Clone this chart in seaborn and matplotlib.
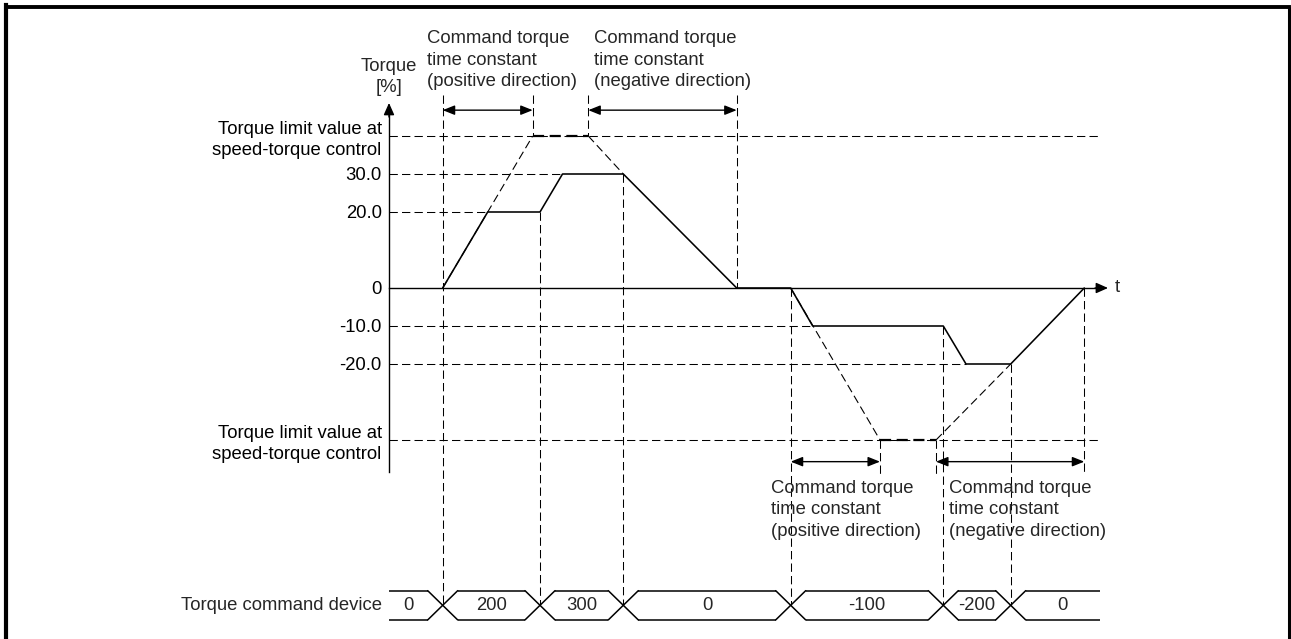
import matplotlib
matplotlib.use("Agg")
import matplotlib.pyplot as plt
import seaborn as sns

# ---- data -------------------------------------------------------------
# time axis in arbitrary units, torque in %
response_time = [53.7, 98.7, 151.0, 173.5, 234.3, 347.7,
                 401.7, 423.7, 554.3, 577.0, 621.7, 695.3]
response_torque = [0, 20, 20, 30, 30, 0,
                   0, -10, -10, -20, -20, 0]

torque_limit = 40.0
limit_label = "Torque limit value at\nspeed-torque control"
level_values = [torque_limit, 30.0, 20.0, 0.0, -10.0, -20.0, -torque_limit]
level_labels = [limit_label, "30.0", "20.0", "0", "-10.0", "-20.0", limit_label]

# ramps toward the limit (dashed) : ramp-in, plateau, ramp-out
pos_ramp_time = [53.7, 143.7, 199.3, 234.3]
pos_ramp_torque = [0, 40, 40, 30]
neg_ramp_time = [401.7, 491.0, 547.0, 621.7]
neg_ramp_torque = [0, -40, -40, -20]

# command torque time constant spans
span_top = [(53.7, 143.7), (199.3, 347.7)]
span_bottom = [(401.7, 491.0), (547.0, 695.3)]
span_text = ["Command torque\ntime constant\n(positive direction)",
             "Command torque\ntime constant\n(negative direction)"]

# torque command device
command_change_time = [53.7, 151.0, 234.3, 401.7, 554.3, 621.7]
command_value = [0, 200, 300, 0, -100, -200, 0]

# ---- style ------------------------------------------------------------
sns.set_theme(style="white")
plt.rcParams["font.family"] = ["Liberation Sans", "DejaVu Sans"]
plt.rcParams["lines.scale_dashes"] = False
FS = 13.3
LS = 1.34
THIN = (0, (6.0, 3.0))
THICK = (0, (8.0, 4.0))
K = "black"

fig = plt.figure(figsize=(12.91, 6.39), dpi=100)
ax = fig.add_axes([0, 0, 1, 1])
ax.set_xlim(-389, 902)
ax.set_ylim(-92.37, 75.79)
ax.set_facecolor("white")

t_end = 711.0         # right end of guides / time axis
y_top_guide = 50.8    # top of guides under the upper annotations
y_span_top = 46.8
y_span_bot = -45.7
y_bot_guide = -49.2
row_mid, row_half, row_slant = -83.5, 3.85, 15.0

# torque axis and time axis via spines
for s in ["top", "right"]:
    ax.spines[s].set_visible(False)
ax.spines["left"].set_position(("data", 0))
ax.spines["left"].set_bounds(-48.4, 46.0)
ax.spines["bottom"].set_position(("data", 0))
ax.spines["bottom"].set_bounds(0, t_end)
for s in ["left", "bottom"]:
    ax.spines[s].set_color(K)
    ax.spines[s].set_linewidth(1.0)
ax.set_xticks([])
ax.set_yticks(level_values)
ax.set_yticklabels(level_labels, fontsize=FS, color=K, linespacing=LS)
ax.tick_params(axis="y", length=0, pad=5.3)

ax.annotate("", xy=(0, 48.7), xytext=(0, 45.0),
            arrowprops=dict(arrowstyle="-|>,head_length=0.45,head_width=0.2",
                            mutation_scale=16, color=K, lw=1.0,
                            shrinkA=0, shrinkB=0))
ax.annotate("", xy=(t_end + 8, 0), xytext=(t_end - 5, 0),
            arrowprops=dict(arrowstyle="-|>,head_length=0.45,head_width=0.2",
                            mutation_scale=16, color=K, lw=1.0,
                            shrinkA=0, shrinkB=0))
ax.text(0, 55.6, "Torque\n[%]", ha="center", va="center", fontsize=FS,
        linespacing=LS)
ax.text(t_end + 17, 0, "t", ha="center", va="center", fontsize=FS)

# horizontal reference guides
def first_hit(level):
    for t, v in zip(response_time, response_torque):
        if v == level:
            return t
    return t_end

for lv in [30.0, 20.0, -10.0, -20.0]:
    ax.plot([0, first_hit(lv)], [lv, lv], color=K, lw=0.75, ls=THIN)
for lv in [torque_limit, -torque_limit]:
    ax.plot([0, t_end], [lv, lv], color=K, lw=0.75, ls=THIN)

# vertical guides: command changes down to the command row
level_at_change = [0, 20, 30, 0, -10, -20]
for i, (t, lv) in enumerate(zip(command_change_time, level_at_change)):
    top = y_top_guide if i == 0 else lv
    ax.plot([t, t], [top, row_mid], color=K, lw=0.75, ls=THIN)

# vertical guides: time-constant span ends
ax.plot([span_top[0][1]] * 2, [y_top_guide, torque_limit], color=K, lw=0.75, ls=THIN)
ax.plot([span_top[1][0]] * 2, [y_top_guide, torque_limit], color=K, lw=0.75, ls=THIN)
ax.plot([span_top[1][1]] * 2, [y_top_guide, 0], color=K, lw=0.75, ls=THIN)
ax.plot([span_bottom[0][1]] * 2, [-torque_limit, y_bot_guide], color=K, lw=0.75, ls=THIN)
ax.plot([span_bottom[1][0]] * 2, [-torque_limit, y_bot_guide], color=K, lw=0.75, ls=THIN)
ax.plot([span_bottom[1][1]] * 2, [0, y_bot_guide], color=K, lw=0.75, ls=THIN)

# ramps toward the limit
for rt, rv in [(pos_ramp_time, pos_ramp_torque), (neg_ramp_time, neg_ramp_torque)]:
    ax.plot([rt[0], rt[1]], [rv[0], rv[1]], color=K, lw=0.8, ls=THIN)
    ax.plot([rt[1], rt[2]], [rv[1], rv[2]], color=K, lw=1.6, ls=THICK)
    ax.plot([rt[2], rt[3]], [rv[2], rv[3]], color=K, lw=0.8, ls=THIN)

# torque response
sns.lineplot(x=response_time, y=response_torque, ax=ax, color=K,
             lw=1.15, sort=False, estimator=None)

# time constant arrows
arrow = dict(arrowstyle="<|-|>,head_length=0.45,head_width=0.18",
             mutation_scale=16, color=K, lw=1.0, shrinkA=0, shrinkB=0)
for (a, b) in span_top:
    ax.annotate("", xy=(b, y_span_top), xytext=(a, y_span_top), arrowprops=arrow)
for (a, b) in span_bottom:
    ax.annotate("", xy=(b, y_span_bot), xytext=(a, y_span_bot), arrowprops=arrow)

for x, txt in zip([37.7, 205.3], span_text):
    ax.text(x, 59.9, txt, ha="left", va="center", fontsize=FS, linespacing=LS)
for x, txt in zip([382.0, 560.3], span_text):
    ax.text(x, -58.4, txt, ha="left", va="center", fontsize=FS, linespacing=LS)

# torque command device row
top, bot = row_mid + row_half, row_mid - row_half
edges = [0.0] + command_change_time + [t_end]
for i, val in enumerate(command_value):
    left = edges[i] + (row_slant if i > 0 else 0)
    right = edges[i + 1] - (row_slant if i < len(command_value) - 1 else 0)
    ax.plot([left, right], [top, top], color=K, lw=1.1, solid_capstyle="butt")
    ax.plot([left, right], [bot, bot], color=K, lw=1.1, solid_capstyle="butt")
    ax.text((left + right) / 2, row_mid, str(val), ha="center", va="center",
            fontsize=FS)
for t in command_change_time:
    ax.plot([t - row_slant, t + row_slant], [top, bot], color=K, lw=1.1)
    ax.plot([t - row_slant, t + row_slant], [bot, top], color=K, lw=1.1)
ax.text(-7.3, row_mid, "Torque command device", ha="right", va="center",
        fontsize=FS)

# page frame
tr = ax.transAxes
ax.plot([6 / 1291, 6 / 1291], [0, 1 - 5 / 639], transform=tr, color=K,
        lw=3.0, solid_capstyle="projecting", clip_on=False)
ax.plot([6 / 1291, 1289 / 1291], [1 - 6.5 / 639, 1 - 6.5 / 639], transform=tr,
        color=K, lw=2.8, solid_capstyle="projecting", clip_on=False)
ax.plot([1289 / 1291, 1289 / 1291], [0, 1 - 6.5 / 639], transform=tr, color=K,
        lw=2.2, solid_capstyle="butt", clip_on=False)

fig.savefig("out.png", dpi=100)
